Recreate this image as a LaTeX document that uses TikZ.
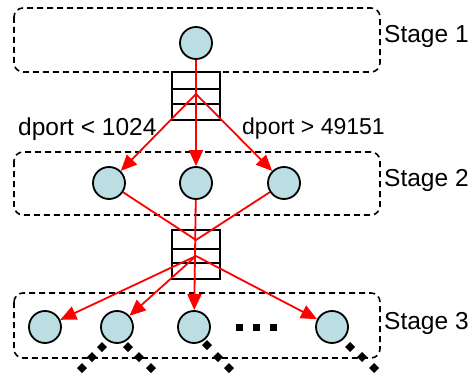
\documentclass[tikz,border=0pt]{standalone}
\usepackage{fontspec}
\setmainfont{Liberation Sans}
\usetikzlibrary{arrows.meta}
\definecolor{nodefill}{RGB}{187,222,227}
\begin{document}
\begin{tikzpicture}[x=1pt,y=-1pt,
  stagebox/.style={draw=black,line width=1.6pt,dash pattern=on 6pt off 4pt,rounded corners=9pt},
  circ/.style={circle,draw=black,line width=1.8pt,fill=nodefill,minimum size=32pt,inner sep=0pt},
  flow/.style={draw=red,line width=1.8pt},
  flowarr/.style={flow,-{Triangle[length=16pt,width=14pt]}},
  qline/.style={draw=black,line width=2pt},
  lbl/.style={font=\fontsize{24.5}{28}\selectfont,inner sep=0pt,anchor=west},
  dm/.style={fill=black}
]
\useasboundingbox (0,0) rectangle (476,377);
% stage boxes
\draw[stagebox] (14,8) rectangle (380,72);
\draw[stagebox] (14,152) rectangle (380,215);
\draw[stagebox] (14,293) rectangle (380,358);
\node[lbl] (s1) at (384,36) {Stage 1};
\node[lbl] (s2) at (384,180) {Stage 2};
\node[lbl] (s3) at (384,323) {Stage 3};
% queues
\draw[qline] (172,72) rectangle (220,120);
\draw[qline] (172,89) -- (220,89);
\draw[qline] (172,104) -- (220,104);
\draw[qline] (172,230) rectangle (220,279);
\draw[qline] (172,249) -- (220,249);
\draw[qline] (172,263) -- (220,263);
% nodes
\node[circ] (a) at (196,43) {};
\node[circ] (b1) at (109,183) {};
\node[circ] (b2) at (196,183) {};
\node[circ] (b3) at (284,183) {};
\node[circ] (c1) at (45,327) {};
\node[circ] (c2) at (117,327) {};
\node[circ] (c3) at (194,327) {};
\node[circ] (c4) at (332,327) {};
\coordinate (f1) at (196,94);
\coordinate (j2) at (196,240);
\coordinate (f2) at (196,256);
% flows
\draw[flowarr] (a) -- (b2);
\draw[flowarr] (f1) -- (b1);
\draw[flowarr] (f1) -- (b3);
\draw[flow] (b1) -- (j2) -- (b3);
\draw[flowarr] (b2) -- (c3);
\draw[flowarr] (f2) -- (c1);
\draw[flowarr] (f2) -- (c2);
\draw[flowarr] (f2) -- (c4);
% labels
\node[lbl] (l1) at (18,129) {dport < 1024};
\node[lbl,font=\fontsize{23}{27}\selectfont] (l2) at (242,129) {dport > 49151};
% ellipsis
\foreach \x in {239,256,273} \fill (\x-3.5,323.5) rectangle (\x+3.5,330.5);
% diamonds
\foreach \p in {(102,347),(92,357),(82,368),(128,347),(139,357),(151,368),(207,345),(218,357),(229,368),(350,347),(362,357),(374,368)}
  \fill[dm] \p +(0,-5) -- +(5,0) -- +(0,5) -- +(-5,0) -- cycle;
\end{tikzpicture}
\end{document}
